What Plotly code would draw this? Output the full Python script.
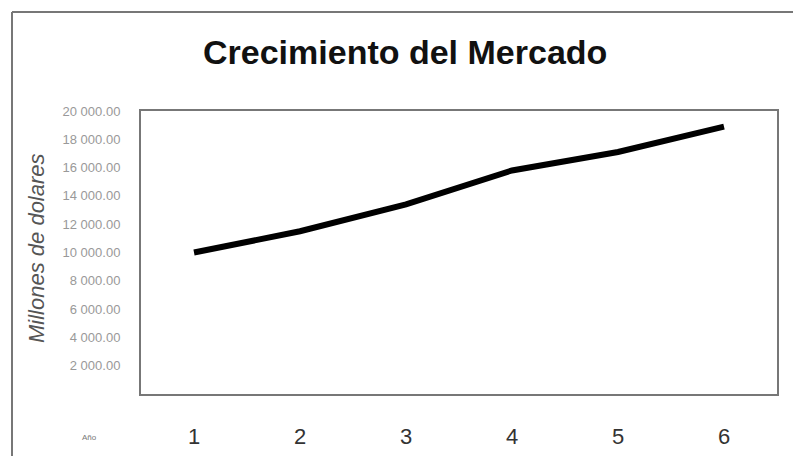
import plotly.graph_objects as go

# Market size by year (millions of dollars)
years = ["1", "2", "3", "4", "5", "6"]
market = [10000, 11500, 13400, 15800, 17100, 18900]

y_ticks = [2000, 4000, 6000, 8000, 10000, 12000, 14000, 16000, 18000, 20000]
y_tick_text = ["2 000.00", "4 000.00", "6 000.00", "8 000.00", "10 000.00",
               "12 000.00", "14 000.00", "16 000.00", "18 000.00", "20 000.00"]

W, H = 793, 456
L, R, T, B = 141, 16, 111, 62
pw, ph = W - L - R, H - T - B


def px_x(x):
    return (x - L) / pw


def px_y(y):
    return (H - B - y) / ph


FONT = "Liberation Sans, Arial, sans-serif"

fig = go.Figure(go.Scatter(
    x=years, y=market, mode="lines",
    line=dict(color="#000000", width=6),
    hoverinfo="skip",
))

fig.update_layout(
    width=W, height=H,
    margin=dict(l=L, r=R, t=T, b=B),
    paper_bgcolor="white", plot_bgcolor="white",
    showlegend=False,
    font=dict(family=FONT),
    xaxis=dict(
        type="category", range=[-0.5, 5.5], showgrid=False, zeroline=False,
        showline=True, linecolor="#777777", linewidth=2, mirror=True,
        ticks="", tickfont=dict(size=22, color="#333333"),
        ticklabelstandoff=22, automargin=False,
    ),
    yaxis=dict(
        range=[0, 20000], showgrid=False, zeroline=False,
        showline=True, linecolor="#777777", linewidth=2, mirror=True,
        tickvals=y_ticks, ticktext=y_tick_text, ticks="",
        tickfont=dict(size=13, color="#999999"),
        ticklabelstandoff=16, automargin=False,
    ),
    shapes=[
        # outer chart frame (left and top edges)
        dict(type="line", xref="paper", yref="paper",
             x0=px_x(12), x1=px_x(12), y0=px_y(12), y1=px_y(460),
             line=dict(color="#777777", width=2)),
        dict(type="line", xref="paper", yref="paper",
             x0=px_x(12), x1=px_x(795), y0=px_y(12), y1=px_y(12),
             line=dict(color="#777777", width=2)),
    ],
    annotations=[
        dict(text="<b>Crecimiento del Mercado</b>", xref="paper", yref="paper",
             x=px_x(405), y=px_y(52), xanchor="center", yanchor="middle",
             showarrow=False, font=dict(size=34, color="#111111")),
        dict(text="<i>Millones de dolares</i>", xref="paper", yref="paper",
             x=px_x(36), y=px_y(248), xanchor="center", yanchor="middle",
             textangle=-90, showarrow=False,
             font=dict(size=22, color="#555555")),
        dict(text="Año", xref="paper", yref="paper",
             x=px_x(89), y=px_y(437), xanchor="center", yanchor="middle",
             showarrow=False, font=dict(size=8, color="#777777")),
    ],
)

fig.write_html("out.html")
